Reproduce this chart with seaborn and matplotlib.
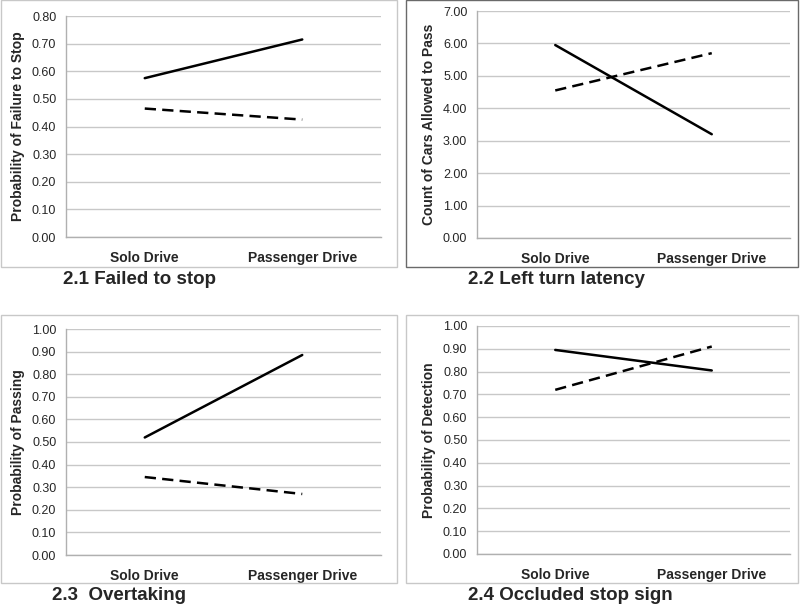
import pandas as pd
import numpy as np
import matplotlib
matplotlib.use('Agg')
import matplotlib.pyplot as plt
import seaborn as sns
from matplotlib.patches import Rectangle

# --- 데이터 ---
conditions = ['Solo Drive', 'Passenger Drive']
groups = ['solid', 'dashed']

fail_solid = [0.575, 0.715]
fail_dashed = [0.465, 0.425]

left_solid = [5.95, 3.20]
left_dashed = [4.55, 5.70]

overtake_solid = [0.52, 0.885]
overtake_dashed = [0.345, 0.27]

detect_solid = [0.895, 0.805]
detect_dashed = [0.72, 0.91]

titles = ['2.1 Failed to stop', '2.2 Left turn latency', '2.3  Overtaking', '2.4 Occluded stop sign']
ylabels = ['Probability of Failure to Stop', 'Count of Cars Allowed to Pass',
           'Probability of Passing', 'Probability of Detection']
ymaxes = [0.8, 7.0, 1.0, 1.0]
ysteps = [0.1, 1.0, 0.1, 0.1]


def make_df(solid, dashed):
    return pd.DataFrame({
        'cond': conditions * 2,
        'group': ['solid'] * 2 + ['dashed'] * 2,
        'value': list(solid) + list(dashed),
    })


panels = [make_df(fail_solid, fail_dashed), make_df(left_solid, left_dashed),
          make_df(overtake_solid, overtake_dashed), make_df(detect_solid, detect_dashed)]

# --- 레이아웃 (픽셀) ---
W, H = 800, 606
sns.set_style('white')
plt.rcParams['font.family'] = ['Liberation Sans', 'DejaVu Sans']

fig = plt.figure(figsize=(W / 100, H / 100), dpi=100)

# (x0, x1, ytop, ybottom) plot area
areas = [(66, 381, 16, 237), (477, 790, 11, 238), (66, 381, 329, 555), (477, 790, 326, 554)]
boxes = [(1, 0, 397, 267, '#c8c8c8'), (406, 0, 798, 267, '#6a6a6a'),
         (1, 315, 397, 583, '#c8c8c8'), (406, 315, 798, 583, '#c8c8c8')]
title_pos = [(63, 280), (468, 280), (52, 595), (468, 595)]

for i in range(4):
    x0, y0, x1, y1, bc = boxes[i]
    fig.patches.append(Rectangle((x0 / W, 1 - y1 / H), (x1 - x0) / W, (y1 - y0) / H,
                                 transform=fig.transFigure, fill=False,
                                 edgecolor=bc, linewidth=1.0))

    ax0, ax1, at, ab = areas[i]
    ax = fig.add_axes([ax0 / W, 1 - ab / H, (ax1 - ax0) / W, (ab - at) / H])
    sns.pointplot(data=panels[i], x='cond', y='value', hue='group', order=conditions,
                  hue_order=groups, palette=['black', 'black'], markers='',
                  linestyles=['-', '--'], errorbar=None, dodge=False, ax=ax)
    for ln in ax.lines:
        ln.set_linewidth(1.8)
        if ln.get_linestyle() == '--':
            ln.set_dashes([4.5, 2.5])
    if ax.get_legend() is not None:
        ax.get_legend().remove()

    ax.set_xlim(-0.5, 1.5)
    ax.set_ylim(0, ymaxes[i])
    yt = np.arange(0, ymaxes[i] + ysteps[i] / 2, ysteps[i])
    ax.set_yticks(yt)
    ax.set_yticklabels([f'{v:.2f}' for v in yt], fontsize=9)
    ax.set_xticks([0, 1])
    ax.set_xticklabels(conditions, fontsize=10, fontweight='bold')
    ax.tick_params(axis='y', length=0, pad=7)
    ax.tick_params(axis='x', length=0, pad=10)
    ax.grid(axis='y', color='#c8c8c8', linewidth=1.0)
    ax.set_axisbelow(True)
    ax.set_xlabel('')
    ax.set_ylabel(ylabels[i], fontsize=10, fontweight='bold', labelpad=5)
    for s in ['top', 'right']:
        ax.spines[s].set_visible(False)
    for s in ['left', 'bottom']:
        ax.spines[s].set_color('#b0b0b0')
        ax.spines[s].set_linewidth(1.0)

    tx, ty = title_pos[i]
    fig.text(tx / W, 1 - ty / H, titles[i], fontsize=13.5, fontweight='bold', va='center', ha='left')

fig.savefig('out.png', dpi=100)
